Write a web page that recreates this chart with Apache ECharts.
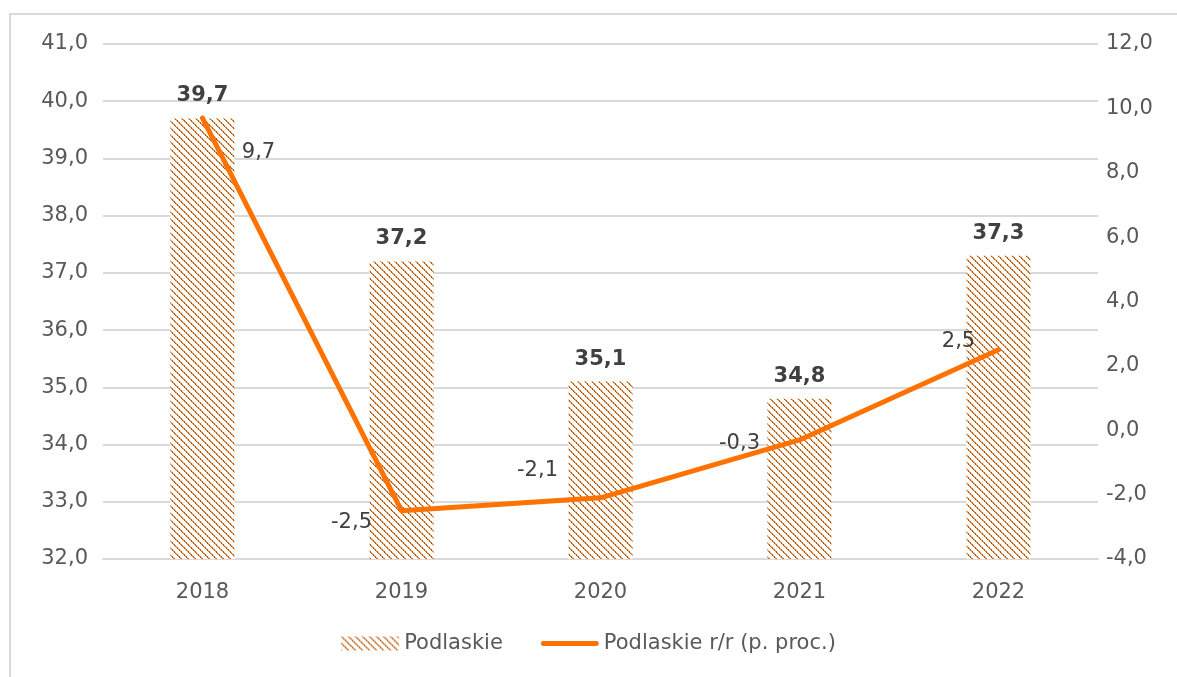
<!DOCTYPE html>
<html>
<head>
<meta charset="utf-8">
<script src="https://cdn.jsdelivr.net/npm/echarts@6/dist/echarts.min.js"></script>
<style>
  html, body { margin: 0; padding: 0; background: #ffffff; }
  #chart { width: 1177px; height: 677px; }
</style>
</head>
<body>
<div id="chart"></div>
<script>
// Yearly values for Podlaskie and the year-on-year change (percentage points)
const years = ['2018', '2019', '2020', '2021', '2022'];
const podlaskie = [39.7, 37.2, 35.1, 34.8, 37.3];
const podlaskieYoY = [9.7, -2.5, -2.1, -0.3, 2.5];

// Where each change label sits relative to its point
const yoyLabelOffsets = [[56, 35], [-50, 12], [-63, -27], [-60, 4], [-40, -8]];

const FONT = '"DejaVu Sans", sans-serif';
const fmt = v => v.toFixed(1).replace('.', ',');

// Diagonal hatch fill for the bars
function makeHatch() {
  const n = 7;
  const c = document.createElement('canvas');
  c.width = n; c.height = n;
  const g = c.getContext('2d');
  g.fillStyle = '#ffffff';
  g.fillRect(0, 0, n, n);
  for (let i = 0; i < n; i++) {
    g.fillStyle = (i % 2 === 0) ? '#b5530a' : '#d98e4c';
    g.fillRect(i, i, 1, 1);
    g.fillStyle = (i % 2 === 0) ? '#e3ac78' : '#c0631a';
    g.fillRect((i + 1) % n, i, 1, 1);
  }
  return c;
}
const hatch = { image: makeHatch(), repeat: 'repeat' };

const chart = echarts.init(document.getElementById('chart'), null, { renderer: 'canvas' });
chart.setOption({
  backgroundColor: '#ffffff',
  animation: false,
  textStyle: { fontFamily: FONT },
  graphic: [{
    type: 'rect',
    shape: { x: 10, y: 14, width: 1300, height: 800 },
    style: { fill: 'none', stroke: '#d9d9d9', lineWidth: 2 },
    silent: true,
    z: -10
  }],
  grid: { left: 103, right: 79, top: 44, bottom: 118, containLabel: false },
  legend: {
    bottom: 18,
    left: 'center',
    itemGap: 38,
    itemWidth: 58,
    itemHeight: 14,
    textStyle: { color: '#595959', fontSize: 21, fontFamily: FONT },
    data: [
      { name: 'Podlaskie', icon: 'rect' },
      { name: 'Podlaskie r/r (p. proc.)', icon: 'path://M2,0 L58,0 A2.5,2.5 0 0 1 58,5 L2,5 A2.5,2.5 0 0 1 2,0 Z', itemStyle: { color: '#ff7200' } }
    ]
  },
  xAxis: {
    type: 'category',
    data: years,
    axisLine: { show: true, onZero: false, lineStyle: { color: '#d9d9d9', width: 2 } },
    axisTick: { show: false },
    axisLabel: { color: '#595959', fontSize: 21, margin: 23, fontFamily: FONT }
  },
  yAxis: [{
    type: 'value',
    min: 32, max: 41, interval: 1,
    axisLine: { show: false },
    axisTick: { show: false },
    splitLine: { lineStyle: { color: '#d9d9d9', width: 2 } },
    axisLabel: { color: '#595959', fontSize: 21, margin: 15, formatter: fmt, fontFamily: FONT }
  }, {
    type: 'value',
    min: -4, max: 12, interval: 2,
    axisLine: { show: false },
    axisTick: { show: false },
    splitLine: { show: false },
    axisLabel: { color: '#595959', fontSize: 21, margin: 8, formatter: fmt, fontFamily: FONT }
  }],
  series: [{
    name: 'Podlaskie',
    type: 'bar',
    yAxisIndex: 0,
    data: podlaskie,
    barWidth: 64,
    itemStyle: { color: hatch },
    label: {
      show: true,
      position: 'top',
      distance: 12,
      color: '#404040',
      fontSize: 21,
      fontWeight: 'bold',
      fontFamily: FONT,
      formatter: p => fmt(p.value)
    }
  }, {
    name: 'Podlaskie r/r (p. proc.)',
    type: 'line',
    yAxisIndex: 1,
    data: podlaskieYoY,
    symbol: 'circle',
    symbolSize: 2,
    showSymbol: true,
    lineStyle: { color: '#ff7200', width: 5, cap: 'round', join: 'round' },
    itemStyle: { color: '#ff7200' },
    label: {
      show: true,
      position: 'inside',
      color: '#404040',
      fontSize: 21,
      fontFamily: FONT,
      formatter: p => fmt(p.value)
    },
    labelLayout: p => ({
      dx: yoyLabelOffsets[p.dataIndex][0],
      dy: yoyLabelOffsets[p.dataIndex][1],
      hideOverlap: false
    }),
    z: 5
  }]
});
</script>
</body>
</html>
